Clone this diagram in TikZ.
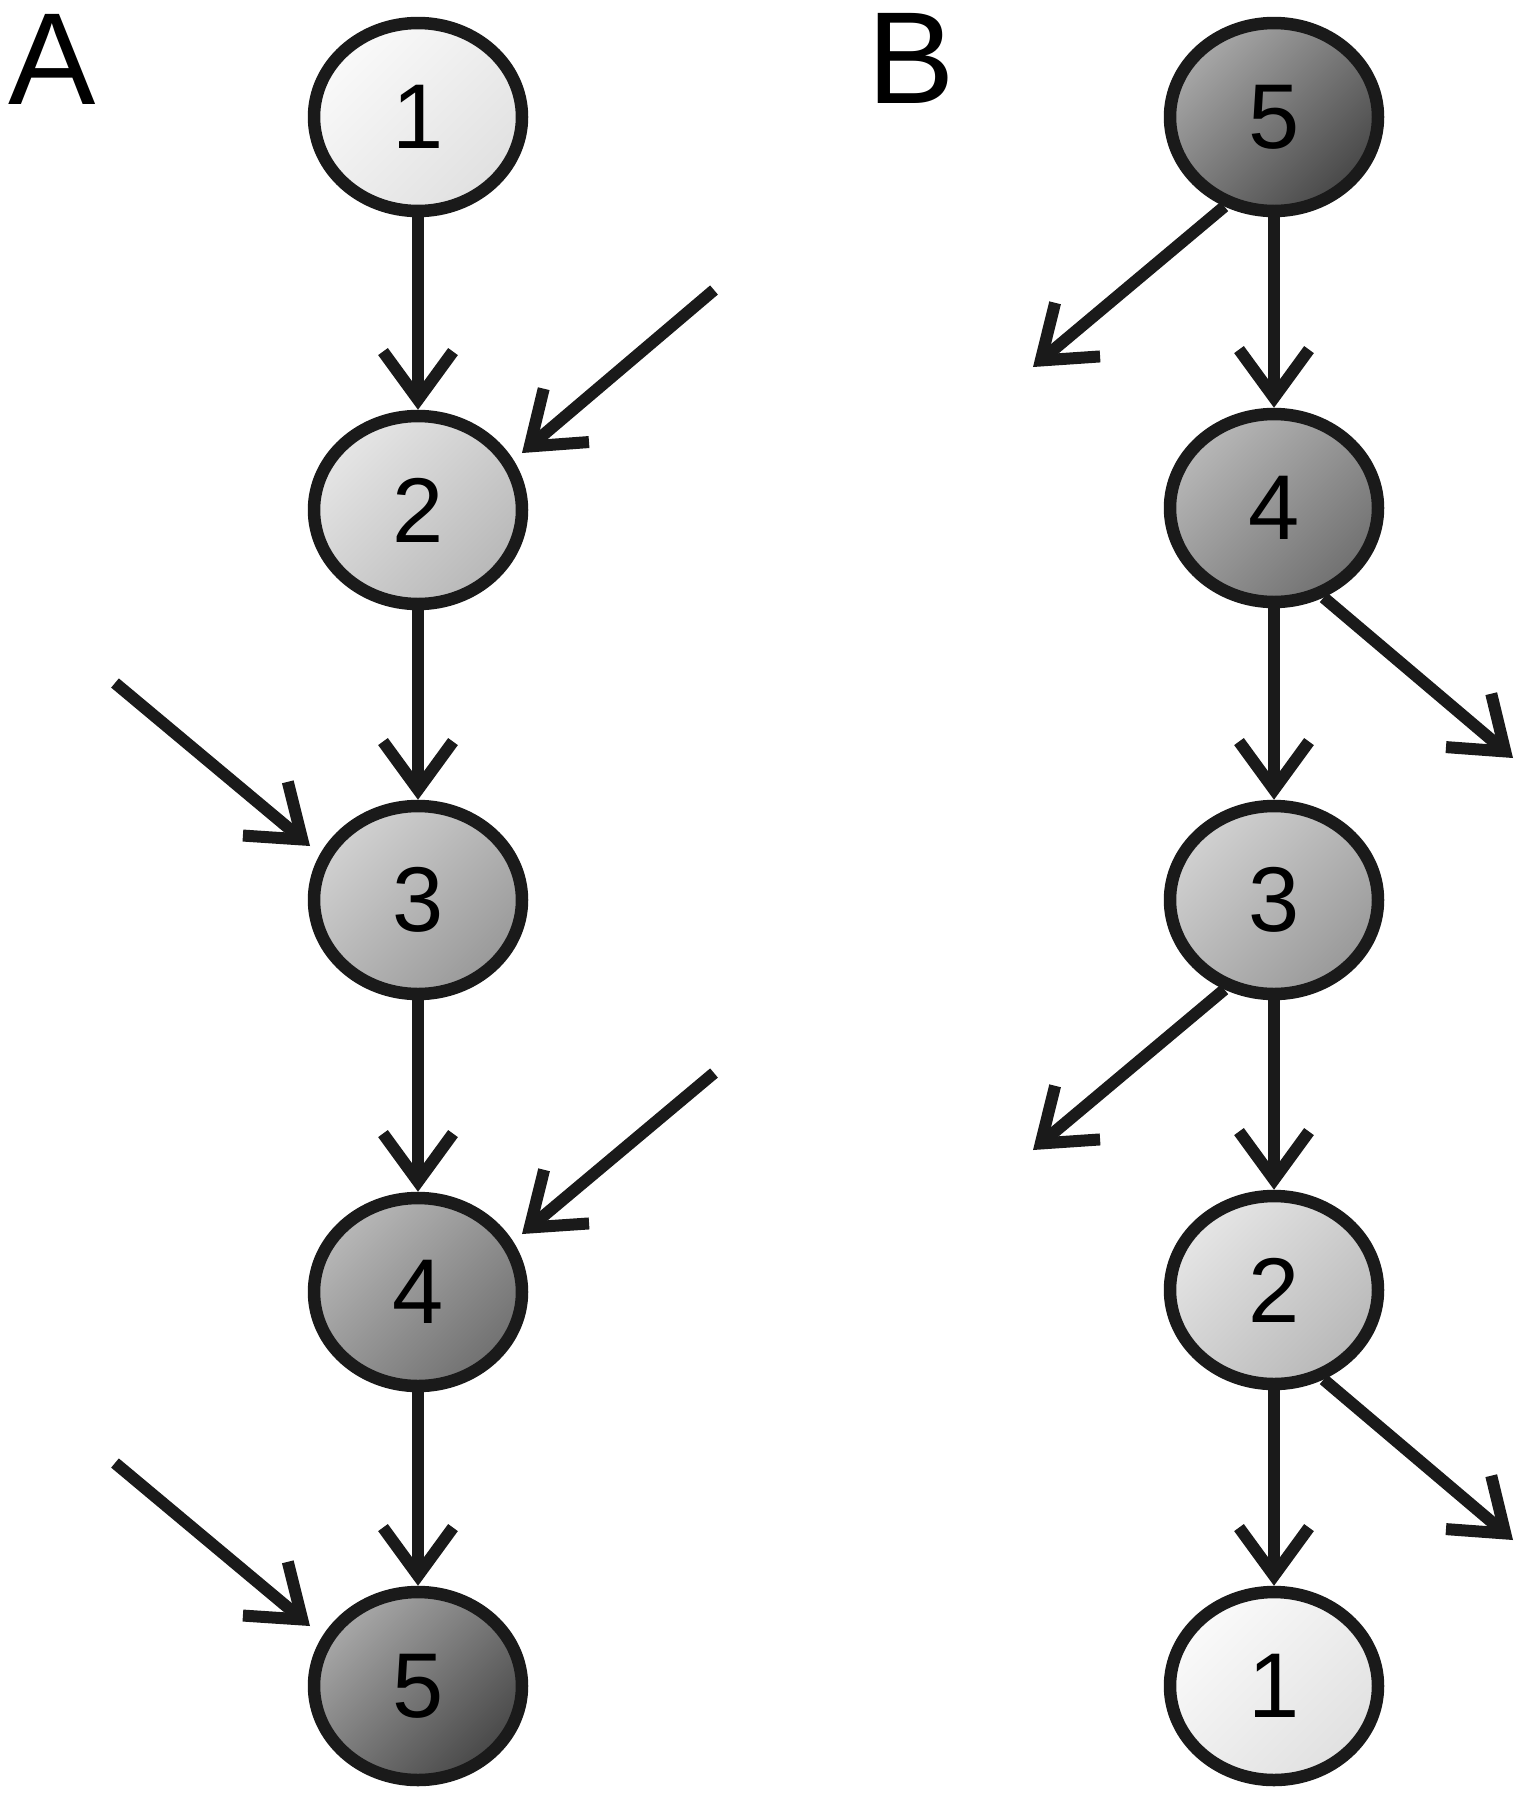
\documentclass[tikz,border=0pt]{standalone}
\usepackage{fontspec}
\setmainfont{Liberation Sans}
\usetikzlibrary{arrows.meta,shapes.geometric,calc}
\definecolor{linec}{HTML}{1A1A1A}
\begin{document}
\begin{tikzpicture}[x=1pt,y=-1pt,
  circ/.style={ellipse, draw=linec, line width=12.5pt, minimum width=208pt, minimum height=188pt,
    inner sep=0pt, font=\fontsize{92}{100}\selectfont},
  c1/.style={circ, top color=white!98!black, bottom color=white!88!black, shading angle=45},
  c2/.style={circ, top color=white!90!black, bottom color=white!72!black, shading angle=45},
  c3/.style={circ, top color=white!82!black, bottom color=white!60!black, shading angle=45},
  c4/.style={circ, top color=white!72!black, bottom color=white!44!black, shading angle=45},
  c5/.style={circ, top color=white!66!black, bottom color=white!28!black, shading angle=45},
  arr/.style={draw=linec, line width=12pt, -{Straight Barb[length=48pt,width=70pt,sharp]}},
  lbl/.style={inner sep=0pt, anchor=base west, font=\fontsize{131}{140}\selectfont}]
\useasboundingbox (0,0) rectangle (1523,1800);
% labels
\node[lbl] (labA) at (8,104) {A};
\node[lbl] (labB) at (867,103) {B};
% column A
\node[c1] (a1) at (418,117) {1};
\node[c2] (a2) at (418,510) {2};
\node[c3] (a3) at (418,900) {3};
\node[c4] (a4) at (418,1292) {4};
\node[c5] (a5) at (418,1686) {5};
\draw[arr] (a1) -- (a2);
\draw[arr] (a2) -- (a3);
\draw[arr] (a3) -- (a4);
\draw[arr] (a4) -- (a5);
\coordinate (s2) at (714,290);  \coordinate (t2) at (522,453);
\coordinate (s3) at (115,683);  \coordinate (t3) at (310,846);
\coordinate (s4) at (714,1073); \coordinate (t4) at (522,1234);
\coordinate (s5) at (115,1463); \coordinate (t5) at (310,1626);
\draw[arr] (s2) -- (t2);
\draw[arr] (s3) -- (t3);
\draw[arr] (s4) -- (t4);
\draw[arr] (s5) -- (t5);
% column B
\node[c5] (b5) at (1274,117) {5};
\node[c4] (b4) at (1274,508) {4};
\node[c3] (b3) at (1274,900) {3};
\node[c2] (b2) at (1274,1290) {2};
\node[c1] (b1) at (1274,1686) {1};
\draw[arr] (b5) -- (b4);
\draw[arr] (b4) -- (b3);
\draw[arr] (b3) -- (b2);
\draw[arr] (b2) -- (b1);
\coordinate (e5) at (1033,367);
\coordinate (e4) at (1513,758);
\coordinate (e3) at (1033,1150);
\coordinate (e2) at (1513,1540);
\draw[arr] (b5.-119) -- (e5);
\draw[arr] (b4.-61) -- (e4);
\draw[arr] (b3.-119) -- (e3);
\draw[arr] (b2.-61) -- (e2);
\end{tikzpicture}
\end{document}
